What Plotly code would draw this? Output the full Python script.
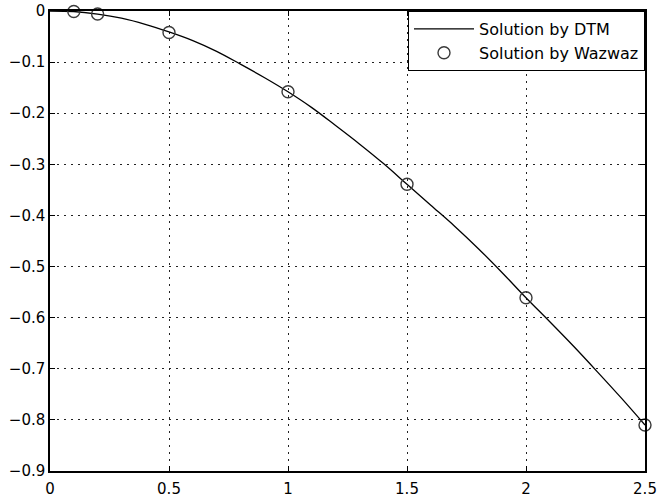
import plotly.graph_objects as go

x_dtm = [0, 0.1, 0.2, 0.3, 0.4, 0.5, 0.6, 0.7, 0.8, 0.9, 1.0, 1.1, 1.2, 1.3, 1.4,
         1.5, 1.6, 1.7, 1.8, 1.9, 2.0, 2.1, 2.2, 2.3, 2.4, 2.5]
y_dtm = [0, -0.001, -0.006, -0.014, -0.026, -0.041, -0.058, -0.079, -0.104, -0.13,
         -0.158, -0.189, -0.224, -0.26, -0.298, -0.339, -0.38, -0.421, -0.465,
         -0.512, -0.561, -0.608, -0.656, -0.706, -0.757, -0.81]

x_waz = [0.1, 0.2, 0.5, 1.0, 1.5, 2.0, 2.5]
y_waz = [-0.001, -0.006, -0.042, -0.158, -0.339, -0.561, -0.81]

x_ticks = [0, 0.5, 1, 1.5, 2, 2.5]
x_tick_text = ["0", "0.5", "1", "1.5", "2", "2.5"]
y_ticks = [0, -0.1, -0.2, -0.3, -0.4, -0.5, -0.6, -0.7, -0.8, -0.9]
y_tick_text = ["0", "\u22120.1", "\u22120.2", "\u22120.3", "\u22120.4", "\u22120.5",
               "\u22120.6", "\u22120.7", "\u22120.8", "\u22120.9"]

FONT = "DejaVu Sans, Liberation Sans, Arial"

fig = go.Figure()
fig.add_trace(go.Scatter(x=x_dtm, y=y_dtm, mode="lines", name="Solution by DTM",
                         line=dict(color="black", width=1.3, shape="spline"),
                         cliponaxis=False))
fig.add_trace(go.Scatter(x=x_waz, y=y_waz, mode="markers", name="Solution by Wazwaz",
                         cliponaxis=False,
                         marker=dict(symbol="circle-open", size=12,
                                     color="#3a3a3a", line=dict(width=1.4))))

axis_common = dict(showline=True, linecolor="black", linewidth=1.5, mirror="ticks",
                   ticks="inside", ticklen=5, tickcolor="black", automargin=False,
                   showgrid=True, gridcolor="#222222", griddash="2px,5px", gridwidth=1.2,
                   zeroline=False,
                   tickfont=dict(family=FONT, size=15, color="black"))

fig.update_xaxes(range=[0, 2.5], tickvals=x_ticks, ticktext=x_tick_text,
                 ticklabelstandoff=3, **axis_common)
fig.update_yaxes(range=[-0.9, 0], tickvals=y_ticks, ticktext=y_tick_text, **axis_common)

fig.update_layout(
    width=657, height=498,
    margin=dict(l=50, r=12, t=11, b=27),
    plot_bgcolor="white", paper_bgcolor="white",
    font=dict(family=FONT, size=15, color="black"),
    legend=dict(x=1, y=1, xanchor="right", yanchor="top",
                bordercolor="black", borderwidth=1, bgcolor="white",
                font=dict(family=FONT, size=16), tracegroupgap=0, itemwidth=60),
    showlegend=True,
)

fig.write_html("out.html", config={"displayModeBar": False},
               post_script="document.body.style.margin='0';document.body.style.overflow='hidden';")
